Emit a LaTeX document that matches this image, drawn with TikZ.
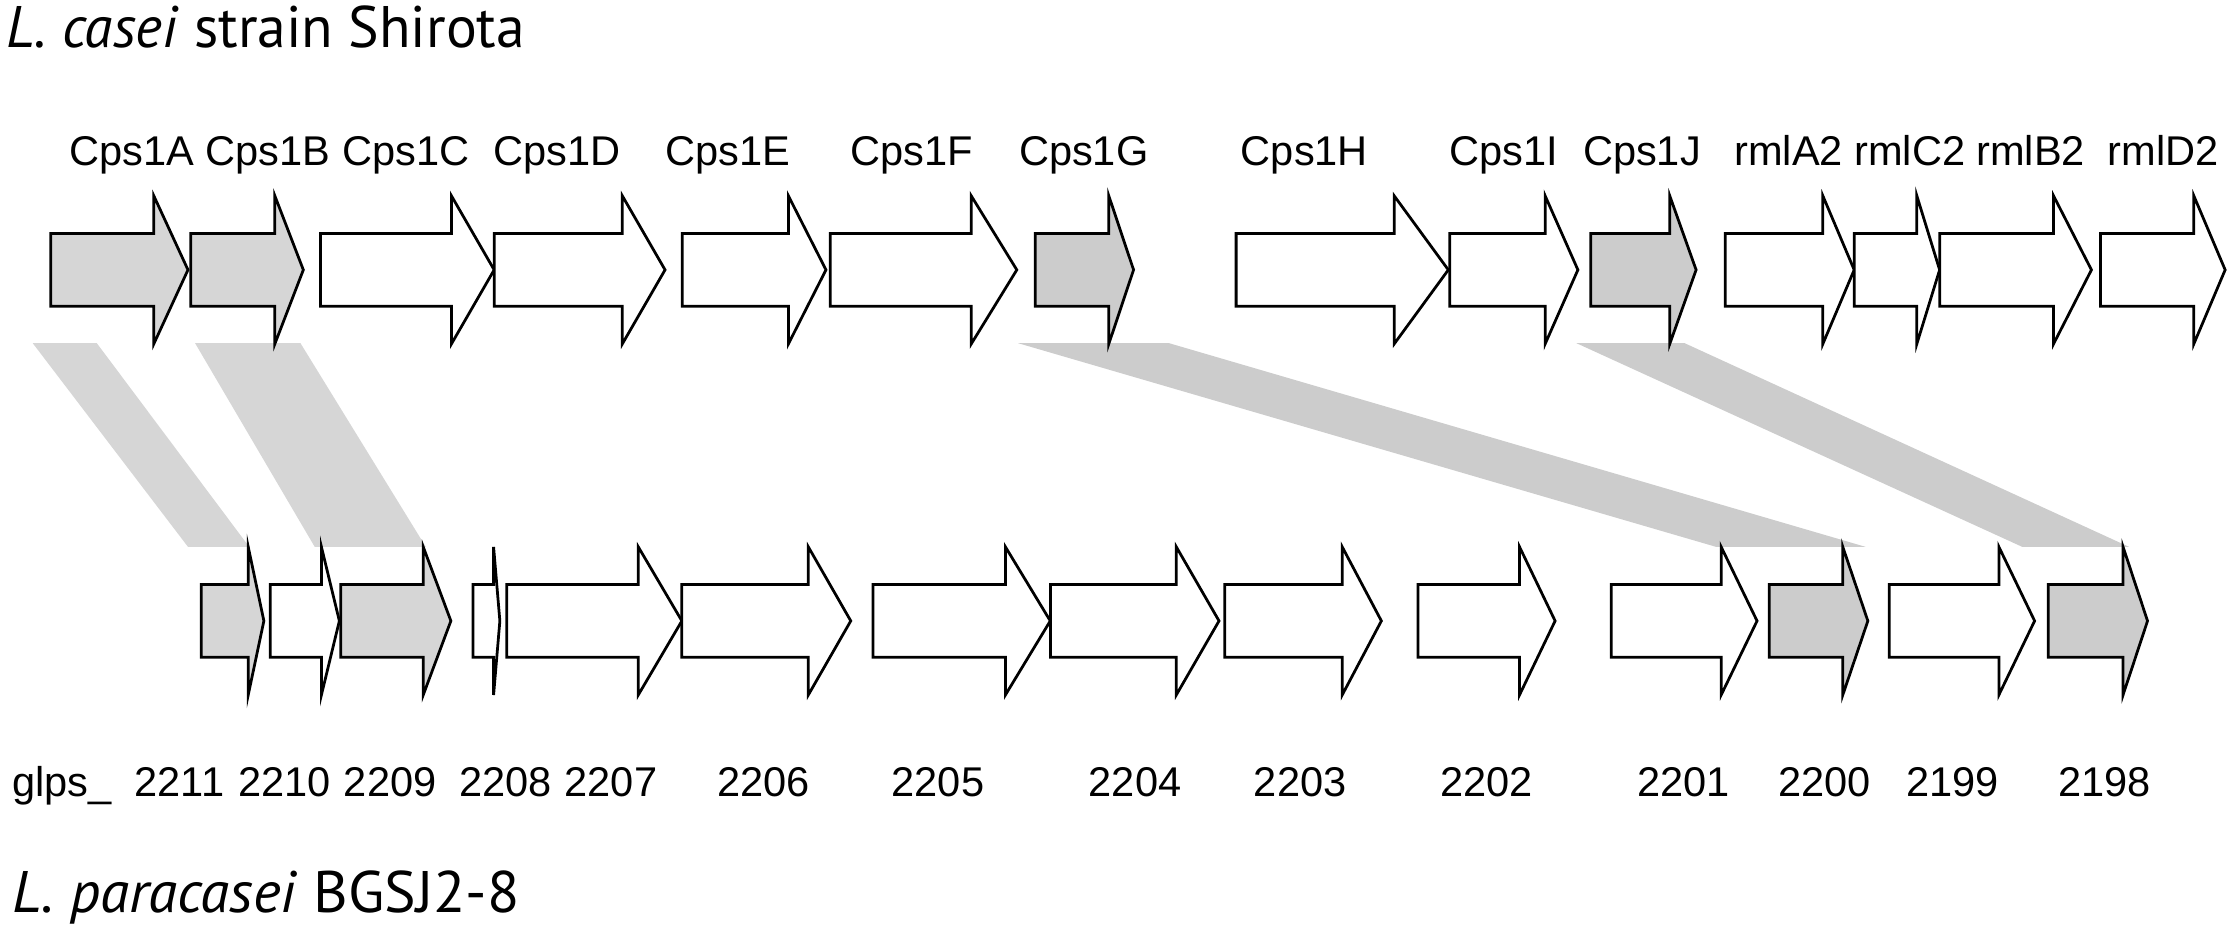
\documentclass[tikz,border=0pt]{standalone}
\usepackage{fontspec}
\usepackage{graphicx}
\setmainfont{Liberation Sans}
\newfontfamily\titlefont{PT Sans}
\definecolor{shadeA}{HTML}{D6D6D6}
\definecolor{shadeB}{HTML}{CCCCCC}
\tikzset{
  gene/.style={draw=black, line width=0.55pt, line join=miter, fill=white},
  geneA/.style={gene, fill=shadeA},
  geneB/.style={gene, fill=shadeB},
  bandA/.style={fill=shadeA, draw=none},
  bandB/.style={fill=shadeB, draw=none},
  glabel/.style={inner sep=0pt, anchor=base, font=\fontsize{8.3}{10}\selectfont},
  ttl/.style={inner sep=0pt, anchor=base west, font=\titlefont\fontsize{11.7}{14}\selectfont}
}
% #1 name, #2 style, #3 left, #4 head base, #5 tip, #6 centre y
\newcommand{\genearrow}[6]{%
  \draw[#2] (#3,#6-25.5) -- (#4,#6-25.5) -- (#4,#6-52) -- (#5,#6) -- (#4,#6+52) -- (#4,#6+25.5) -- (#3,#6+25.5) -- cycle;
  \coordinate (#1) at (#3,#6);
}
\begin{document}
\begin{tikzpicture}[x=0.01cm, y=-0.01cm]
\useasboundingbox (0,0) rectangle (1568,651.5);

% homology bands
\fill[bandA] (23,241) -- (68,241) -- (175,384) -- (132,384) -- cycle;
\fill[bandA] (137,241) -- (211,241) -- (299,384) -- (221,384) -- cycle;
\fill[bandB] (715,241) -- (821,241) -- (1310,384) -- (1205,384) -- cycle;
\fill[bandB] (1107,241) -- (1183,241) -- (1495,384) -- (1420,384) -- cycle;

% top row: L. casei strain Shirota
\genearrow{g1A}{geneA}{35.6}{108}{132}{189.5}
\genearrow{g1B}{geneA}{134}{193}{213}{189.5}
\genearrow{g1C}{gene}{225}{317}{347}{189.5}
\genearrow{g1D}{gene}{347}{437}{467}{189.5}
\genearrow{g1E}{gene}{479}{553.6}{580}{189.5}
\genearrow{g1F}{gene}{583}{682}{714}{189.5}
\genearrow{g1G}{geneB}{727}{778.6}{796}{189.5}
\genearrow{g1H}{gene}{868}{979}{1017}{189.5}
\genearrow{g1I}{gene}{1018}{1085}{1108}{189.5}
\genearrow{g1J}{geneB}{1117}{1172.5}{1191}{189.5}
\genearrow{gA2}{gene}{1211.5}{1280}{1302}{189.5}
\genearrow{gC2}{gene}{1302}{1346}{1362}{189.5}
\genearrow{gB2}{gene}{1362}{1442}{1468.6}{189.5}
\genearrow{gD2}{gene}{1475}{1540.5}{1562.5}{189.5}

% bottom row: L. paracasei BGSJ2-8
\genearrow{g2211}{geneA}{141.4}{174.3}{185.3}{436}
\genearrow{g2210}{gene}{189.7}{225.7}{238.3}{436}
\genearrow{g2209}{geneA}{239.2}{297.2}{316.6}{436}
\genearrow{g2208}{gene}{332.2}{346.6}{351}{436}
\genearrow{g2207}{gene}{355.8}{448.2}{478.8}{436}
\genearrow{g2206}{gene}{478.8}{567.6}{597.4}{436}
\genearrow{g2205}{gene}{613}{706}{737.5}{436}
\genearrow{g2204}{gene}{737.6}{826}{856}{436}
\genearrow{g2203}{gene}{860}{942.5}{970}{436}
\genearrow{g2202}{gene}{995.7}{1067}{1092}{436}
\genearrow{g2201}{gene}{1131.4}{1208.6}{1233.8}{436}
\genearrow{g2200}{geneB}{1242.3}{1294}{1311.6}{436}
\genearrow{g2199}{gene}{1326.6}{1403.6}{1428.7}{436}
\genearrow{g2198}{geneB}{1438.3}{1490.8}{1508}{436}

% top labels
\node[glabel] (l1A) at (92.6,116) {Cps1A};
\node[glabel] (l1B) at (188,116) {Cps1B};
\node[glabel] (l1C) at (285,116) {Cps1C};
\node[glabel] (l1D) at (391,116) {Cps1D};
\node[glabel] (l1E) at (511,116) {Cps1E};
\node[glabel] (l1F) at (640,116) {Cps1F};
\node[glabel] (l1G) at (761,116) {Cps1G};
\node[glabel] (l1H) at (916,116) {Cps1H};
\node[glabel] (l1I) at (1056,116) {Cps1I};
\node[glabel] (l1J) at (1153,116) {Cps1J};
\node[glabel] (lA2) at (1256,116) {rmlA2};
\node[glabel] (lC2) at (1341,116) {rmlC2};
\node[glabel] (lB2) at (1426,116) {rmlB2};
\node[glabel] (lD2) at (1519,116) {rmlD2};

% bottom labels
\node[glabel, anchor=base west] (lglps) at (8,559) {glps\_};
\node[glabel] (l2211) at (126,559) {2211};
\node[glabel] (l2210) at (200,559) {2210};
\node[glabel] (l2209) at (274,559) {2209};
\node[glabel] (l2208) at (355,559) {2208};
\node[glabel] (l2207) at (429,559) {2207};
\node[glabel] (l2206) at (536,559) {2206};
\node[glabel] (l2205) at (658.6,559) {2205};
\node[glabel] (l2204) at (797,559) {2204};
\node[glabel] (l2203) at (913,559) {2203};
\node[glabel] (l2202) at (1044,559) {2202};
\node[glabel] (l2201) at (1182,559) {2201};
\node[glabel] (l2200) at (1281,559) {2200};
\node[glabel] (l2199) at (1371,559) {2199};
\node[glabel] (l2198) at (1478,559) {2198};

% titles
\node[ttl] (tcasei) at (3.8,33.5) {\resizebox{3.64cm}{\height}{\textit{L. casei} strain Shirota}};
\node[ttl] (tpara) at (8,641) {\resizebox{3.56cm}{\height}{\textit{L. paracasei} BGSJ2-8}};
\end{tikzpicture}
\end{document}
